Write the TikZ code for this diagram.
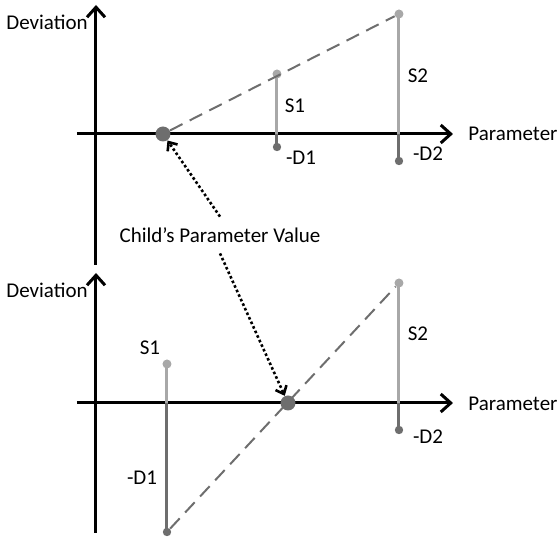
\documentclass[tikz,border=0pt]{standalone}
\usepackage{fontspec}
\setmainfont{Carlito}
\usetikzlibrary{arrows.meta}

\definecolor{sgrey}{HTML}{A8A8A8}
\definecolor{dgrey}{HTML}{6E6E6E}

\begin{document}
\begin{tikzpicture}[
    x=0.5pt, y=-0.5pt,
    axis/.style={line width=1.5pt, black, -{Straight Barb[length=5pt, width=9pt]}},
    sline/.style={line width=1.5pt, sgrey},
    dline/.style={line width=1.5pt, dgrey},
    fitline/.style={line width=1pt, dgrey, dash pattern=on 7pt off 4pt},
    dotarr/.style={line width=1.3pt, black, dash pattern=on 1.3pt off 1.2pt,
        -{Straight Barb[length=3.5pt, width=6pt]}},
    sdot/.style={circle, fill=sgrey, inner sep=0pt, minimum size=4.5pt},
    ddot/.style={circle, fill=dgrey, inner sep=0pt, minimum size=4.2pt},
    cdot/.style={circle, fill=dgrey, inner sep=0pt, minimum size=7.5pt},
    lbl/.style={font=\fontsize{10.5}{12}\selectfont, inner sep=0pt},
]
\useasboundingbox (0,0) rectangle (559,540);

% --- Top plot ---
\coordinate (xa1) at (77,134);
\coordinate (xb1) at (453,134);
\coordinate (ya1) at (96,265);
\coordinate (yb1) at (96,5);
\draw[axis] (ya1) -- (yb1);
\draw[axis] (xa1) -- (xb1);

\node[lbl, anchor=west] (dev1) at (6,22) {Deviation};
\node[lbl, anchor=west] (par1) at (468,134) {Parameter};

% samples
\node[sdot] (s1a) at (277,74) {};
\node[ddot] (d1a) at (277,147) {};
\node[sdot] (s2a) at (399,14) {};
\node[ddot] (d2a) at (399,161) {};

\draw[sline] (s1a.center) -- (s1a |- xa1);
\draw[dline] (s1a |- xa1) -- (d1a.center);
\draw[sline] (s2a.center) -- (s2a |- xa1);
\draw[dline] (s2a |- xa1) -- (d2a.center);

\node[lbl] (ls1a) at (295,106) {S1};
\node[lbl] (ls2a) at (418,76) {S2};
\node[lbl] (ld1a) at (301,158) {-D1};
\node[lbl] (ld2a) at (428,154) {-D2};

% child value
\node[cdot] (c1) at (163,134) {};
\draw[fitline] (c1) -- (s2a);

% --- Bottom plot ---
\coordinate (xa2) at (77,403);
\coordinate (xb2) at (453,403);
\coordinate (ya2) at (96,533);
\coordinate (yb2) at (96,273);
\draw[axis] (ya2) -- (yb2);
\draw[axis] (xa2) -- (xb2);

\node[lbl, anchor=west] (dev2) at (6,290) {Deviation};
\node[lbl, anchor=west] (par2) at (468,404) {Parameter};

% samples
\node[sdot] (s1b) at (167,364) {};
\node[ddot] (d1b) at (167,532) {};
\node[sdot] (s2b) at (399,283) {};
\node[ddot] (d2b) at (399,430) {};

\draw[sline] (s1b.center) -- (s1b |- xa2);
\draw[dline] (s1b |- xa2) -- (d1b.center);
\draw[sline] (s2b.center) -- (s2b |- xa2);
\draw[dline] (s2b |- xa2) -- (d2b.center);

\node[lbl] (ls1b) at (150,348) {S1};
\node[lbl] (ls2b) at (418,334) {S2};
\node[lbl] (ld1b) at (142,478) {-D1};
\node[lbl] (ld2b) at (428,437) {-D2};

\draw[fitline] (d1b) -- (s2b);
\node[cdot] (c2) at (288,403) {};

% --- Label with pointers ---
\node[lbl, minimum height=18pt] (child) at (220,235) {Child’s Parameter Value};
\draw[dotarr] (child.north) -- (c1);
\draw[dotarr] (child.south) -- (c2);

\end{tikzpicture}
\end{document}
